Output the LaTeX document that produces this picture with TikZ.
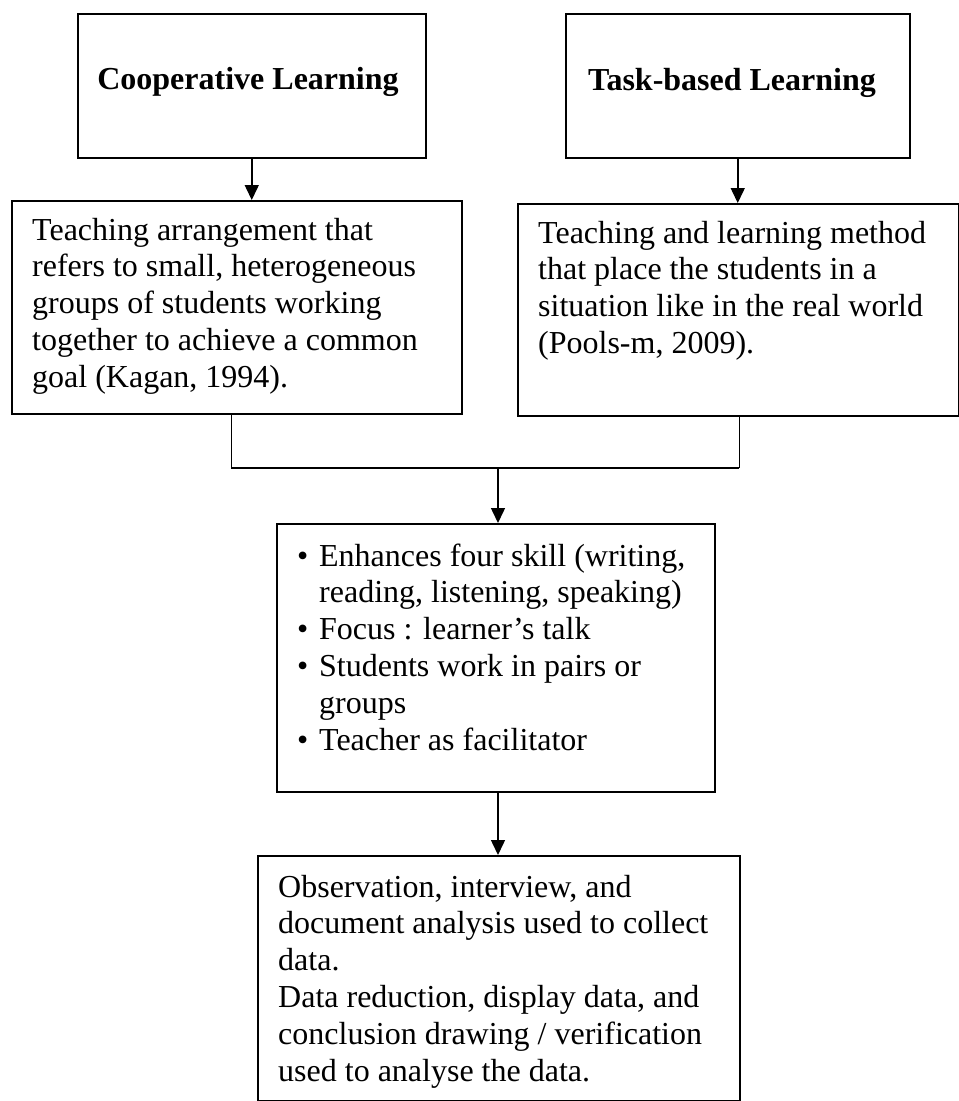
\documentclass[tikz,border=0pt]{standalone}
\usepackage{fontspec}
\setmainfont{Liberation Serif}
\usetikzlibrary{arrows.meta}
\begin{document}
\begin{tikzpicture}[x=1pt,y=-1pt,
  box/.style={draw,line width=1.5pt,inner sep=0pt,anchor=north west},
  txt/.style={inner sep=0pt,anchor=base west,font=\fontsize{32}{36.8}\selectfont},
  ttl/.style={inner sep=0pt,anchor=base,font=\fontsize{32}{36.8}\selectfont\bfseries},
  arr/.style={line width=1.5pt,-{Triangle[length=15pt,width=14pt]}},
  ln/.style={line width=1pt},
  hln/.style={line width=1.8pt}]
\useasboundingbox[fill=white] (0,0) rectangle (959,1101);

% boxes
\node[box,minimum width=348pt,minimum height=144pt] (b1) at (77,13) {};
\node[box,minimum width=344pt,minimum height=144pt] (b2) at (565,13) {};
\node[box,minimum width=450pt,minimum height=213pt] (b3) at (11,200) {};
\node[box,minimum width=441pt,minimum height=212pt] (b4) at (517,203) {};
\node[box,minimum width=438pt,minimum height=268pt] (b5) at (276,523) {};
\node[box,minimum width=482pt,minimum height=245pt] (b6) at (257,855) {};

% texts
\node[ttl] (t1) at (248,89) {Cooperative Learning};
\node[ttl] (t2) at (732,90) {Task-based Learning};
\node[txt] (t3) at (32,240) {\begin{tabular}[t]{@{}l@{}}Teaching arrangement that\\refers to small, heterogeneous\\groups of students working\\together to achieve a common\\goal (Kagan, 1994).\end{tabular}};
\node[txt] (t4) at (538,243) {\begin{tabular}[t]{@{}l@{}}Teaching and learning method\\that place the students in a\\situation like in the real world\\(Pools-m, 2009).\end{tabular}};
\node[txt] (t5) at (297,566) {\begin{tabular}[t]{@{}l@{}l@{}}\makebox[22pt][l]{\textbullet} & Enhances four skill (writing,\\ & reading, listening, speaking)\\\makebox[22pt][l]{\textbullet} & Focus : learner’s talk\\\makebox[22pt][l]{\textbullet} & Students work in pairs or\\ & groups\\\makebox[22pt][l]{\textbullet} & Teacher as facilitator\end{tabular}};
\node[txt] (t6) at (278,897) {\begin{tabular}[t]{@{}l@{}}Observation, interview, and\\document analysis used to collect\\data.\\Data reduction, display data, and\\conclusion drawing / verification\\used to analyse the data.\end{tabular}};

% connectors
\coordinate (jl) at (231,468);
\coordinate (jr) at (739,468);
\coordinate (jm) at (498,468);
\draw[arr] (b1.south) -- (b1.south |- b3.north);
\draw[arr] (b2.south) -- (b2.south |- b4.north);
\draw[ln] (b3.south -| jl) -- (jl);
\draw[ln] (b4.south -| jr) -- (jr);
\draw[hln] (jl) -- (jr);
\draw[arr] (jm) -- (jm |- b5.north);
\draw[arr] (b5.south -| jm) -- (b6.north -| jm);
\end{tikzpicture}
\end{document}
